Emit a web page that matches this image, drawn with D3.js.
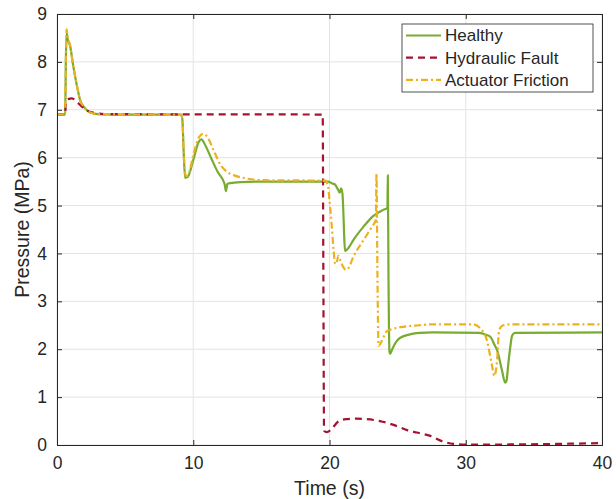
<!DOCTYPE html>
<html>
<head>
<meta charset="utf-8">
<script src="https://cdn.jsdelivr.net/npm/d3@7"></script>
<style>
    body { margin: 0; background: #fff; }
    text { font-family: "Liberation Sans", Arial, Helvetica, sans-serif; fill: #262626; }
</style>
</head>
<body>
<svg id="chart" width="616" height="499"></svg>
<script>
// Healthy
const healthyT = [0, 0.6, 0.65, 0.7, 0.8, 0.95, 1.2, 1.5, 1.7, 2.0, 2.4, 3.0, 4, 9.1, 9.2, 9.3, 9.4, 9.6, 10.0, 10.4, 10.6, 10.9, 11.3, 11.8, 12.2, 12.3, 12.4, 12.5, 12.7, 13.5, 15, 19.9, 20.2, 20.4, 20.65, 20.75, 20.85, 20.95, 21.15, 21.4, 21.75, 22.5, 23.2, 23.95, 24.25, 24.28, 24.33, 24.4, 24.45, 24.6, 24.93, 25.2, 25.9, 26.6, 27.6, 31.0, 31.5, 31.8, 32.1, 32.3, 32.65, 32.9, 33.0, 33.1, 33.25, 33.4, 33.6, 40];
const healthyP = [6.9, 6.9, 8.0, 8.6, 8.45, 8.35, 7.9, 7.45, 7.2, 7.05, 6.95, 6.91, 6.9, 6.9, 6.8, 6.1, 5.58, 5.6, 5.95, 6.33, 6.38, 6.25, 6.0, 5.7, 5.52, 5.45, 5.3, 5.45, 5.47, 5.49, 5.5, 5.5, 5.46, 5.44, 5.32, 5.27, 5.36, 5.25, 4.05, 4.12, 4.28, 4.56, 4.78, 4.91, 4.95, 5.63, 3.5, 1.95, 1.9, 2.0, 2.17, 2.24, 2.31, 2.34, 2.35, 2.34, 2.3, 2.26, 2.1, 1.98, 1.57, 1.3, 1.35, 1.63, 2.0, 2.28, 2.34, 2.35];

// Hydraulic Fault
const hydraulicT = [0, 0.6, 0.65, 0.8, 1.1, 1.4, 1.7, 2.1, 2.65, 3.5, 19.5, 19.55, 19.6, 19.8, 20.1, 20.65, 21.2, 22.0, 22.7, 23.7, 24.7, 25.7, 26.4, 27.4, 28.35, 29.2, 30, 32, 36, 40];
const hydraulicP = [6.9, 6.9, 7.15, 7.22, 7.24, 7.18, 7.1, 7.0, 6.94, 6.91, 6.9, 3.5, 0.3, 0.27, 0.32, 0.49, 0.54, 0.55, 0.54, 0.5, 0.42, 0.31, 0.26, 0.19, 0.07, 0.02, 0.01, 0.01, 0.02, 0.04];

// Actuator Friction
const frictionT = [0, 0.6, 0.65, 0.7, 0.8, 0.95, 1.2, 1.5, 1.7, 2.0, 2.4, 3.0, 9.1, 9.2, 9.3, 9.45, 9.6, 10.0, 10.4, 10.75, 11.1, 11.5, 12.0, 12.45, 13.0, 13.65, 15, 19.7, 19.9, 20.0, 20.15, 20.3, 20.4, 20.5, 20.65, 20.8, 21.0, 21.2, 21.4, 21.75, 22.5, 23.1, 23.4, 23.45, 23.52, 23.6, 23.8, 24.2, 25.2, 26.6, 27.5, 30.55, 31.05, 31.55, 31.9, 32.1, 32.3, 32.45, 32.75, 33.5, 40];
const frictionP = [6.9, 6.9, 8.0, 8.68, 8.5, 8.35, 7.9, 7.45, 7.2, 7.05, 6.95, 6.91, 6.9, 6.8, 6.1, 5.62, 5.63, 6.05, 6.42, 6.5, 6.4, 6.15, 5.85, 5.71, 5.63, 5.58, 5.53, 5.52, 5.39, 5.1, 4.63, 4.07, 3.8, 3.78, 3.95, 3.85, 3.72, 3.66, 3.7, 3.93, 4.28, 4.55, 4.7, 5.67, 3.5, 2.07, 2.15, 2.37, 2.46, 2.5, 2.52, 2.52, 2.44, 2.19, 1.7, 1.44, 1.77, 2.4, 2.5, 2.52, 2.52];

const xTicks = [0, 10, 20, 30, 40];
const yTicks = [0, 1, 2, 3, 4, 5, 6, 7, 8, 9];
const seriesNames = ["Healthy", "Hydraulic Fault", "Actuator Friction"];

function makeChart() {
    let svg = d3.select("#chart");
    let margin = {top: 14, right: 14, bottom: 54, left: 57};
    let width = +svg.attr("width") - margin.left - margin.right;
    let height = +svg.attr("height") - margin.top - margin.bottom;

    let x_scale = d3.scaleLinear().domain([0, 40]).range([0, width]);
    let y_scale = d3.scaleLinear().domain([0, 9]).range([height, 0]);

    let g = svg.append("g")
        .attr("transform", `translate(${margin.left},${margin.top})`);

    // grid
    g.append("g")
        .selectAll("line.gx")
        .data(xTicks)
        .join("line")
        .attr("x1", d => x_scale(d)).attr("x2", d => x_scale(d))
        .attr("y1", 0).attr("y2", height)
        .attr("stroke", "#e3e3e3").attr("stroke-width", 1);
    g.append("g")
        .selectAll("line.gy")
        .data(yTicks)
        .join("line")
        .attr("x1", 0).attr("x2", width)
        .attr("y1", d => y_scale(d)).attr("y2", d => y_scale(d))
        .attr("stroke", "#e3e3e3").attr("stroke-width", 1);

    g.append("clipPath").attr("id", "clip")
        .append("rect").attr("width", width).attr("height", height);

    let series = [
        {name: seriesNames[0], t: healthyT, p: healthyP, color: "#77AC30", dash: null},
        {name: seriesNames[1], t: hydraulicT, p: hydraulicP, color: "#A2142F", dash: "7,5"},
        {name: seriesNames[2], t: frictionT, p: frictionP, color: "#EDB120", dash: "7,3,2,3"},
    ];

    let line = d3.line()
        .x(d => x_scale(d[0]))
        .y(d => y_scale(d[1]))
        .curve(d3.curveMonotoneX);

    series.forEach(s => {
        g.append("path")
            .datum(s.t.map((t, i) => [t, s.p[i]]))
            .attr("clip-path", "url(#clip)")
            .attr("fill", "none")
            .attr("stroke", s.color)
            .attr("stroke-width", 2.2)
            .attr("stroke-dasharray", s.dash)
            .attr("d", line);
    });

    // axes (box with inward ticks)
    let tickLen = 5;
    let axisColor = "#262626";
    let xb = g.append("g").attr("transform", `translate(0,${height})`)
        .call(d3.axisBottom(x_scale).tickValues(xTicks).tickSize(-tickLen).tickPadding(12));
    let xt = g.append("g")
        .call(d3.axisTop(x_scale).tickValues(xTicks).tickSize(-tickLen).tickFormat(""));
    let yl = g.append("g")
        .call(d3.axisLeft(y_scale).tickValues(yTicks).tickSize(-tickLen).tickPadding(10));
    let yr = g.append("g").attr("transform", `translate(${width},0)`)
        .call(d3.axisRight(y_scale).tickValues(yTicks).tickSize(-tickLen).tickFormat(""));

    [xb, xt, yl, yr].forEach(a => {
        a.selectAll("path, line").attr("stroke", axisColor);
        a.selectAll("text")
            .attr("font-size", "17.5px")
            .attr("font-family", "'Liberation Sans', Arial, sans-serif")
            .attr("fill", axisColor);
    });

    // labels
    g.append("text")
        .attr("x", width / 2)
        .attr("y", height + 50)
        .attr("font-size", "19.5px")
        .attr("text-anchor", "middle")
        .text("Time (s)");

    g.append("text")
        .attr("transform", `translate(${29 - margin.left},${height / 2}) rotate(-90)`)
        .attr("font-size", "19.5px")
        .attr("text-anchor", "middle")
        .text("Pressure (MPa)");

    // legend
    let lg = svg.append("g").attr("transform", "translate(402,24)");
    lg.append("rect")
        .attr("width", 191).attr("height", 68)
        .attr("fill", "#fff").attr("stroke", "#262626").attr("stroke-width", 0.8);
    series.forEach((s, i) => {
        let yy = 11.5 + i * 22.2;
        lg.append("line")
            .attr("x1", 4).attr("x2", 39)
            .attr("y1", yy).attr("y2", yy)
            .attr("stroke", s.color).attr("stroke-width", 2.2)
            .attr("stroke-dasharray", s.dash);
        lg.append("text")
            .attr("x", 43).attr("y", yy)
            .attr("dy", "0.35em")
            .attr("font-size", "17px")
            .text(s.name);
    });
}

makeChart();
</script>
</body>
</html>
